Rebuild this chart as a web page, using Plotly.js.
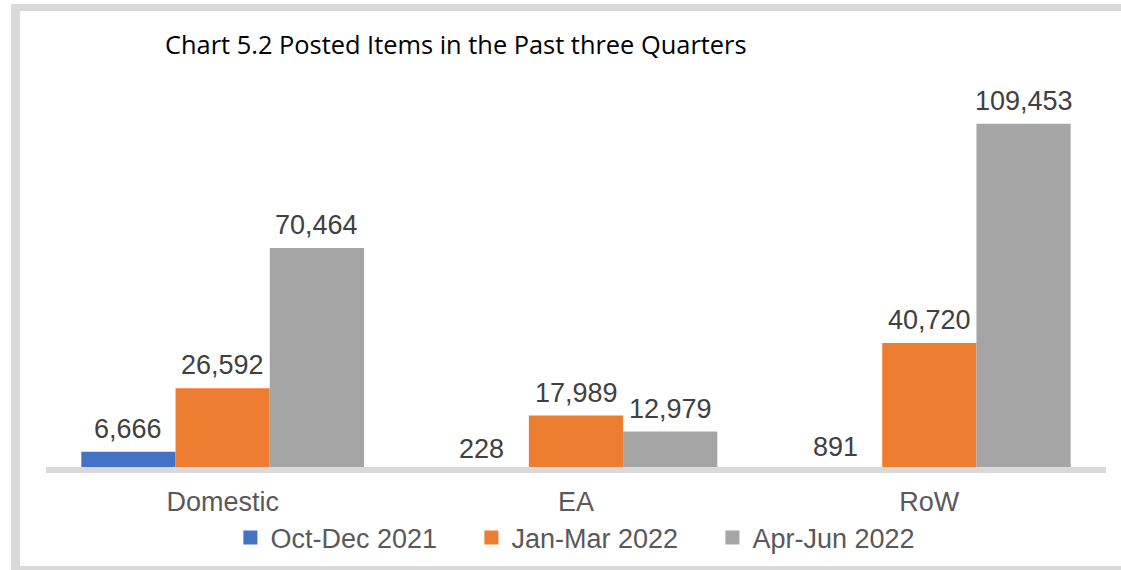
<!DOCTYPE html>
<html>
<head>
<meta charset="utf-8">
<script src="https://cdn.plot.ly/plotly-3.0.1.min.js"></script>
<style>
  html, body { margin: 0; padding: 0; background: #ffffff; }
  #frame { position: absolute; left: 11px; top: 4px; width: 1120px; height: 555px;
           border-left: 9px solid #d9d9d9; border-top: 7px solid #d9d9d9; border-bottom: 8px solid #d9d9d9; }
  #chart { position: absolute; left: 0; top: 0; width: 1121px; height: 570px; }
</style>
</head>
<body>
<div id="frame"></div>
<div id="chart"></div>
<script>
const categories = ["Domestic", "EA", "RoW"];
const seriesNames = ["Oct-Dec 2021", "Jan-Mar 2022", "Apr-Jun 2022"];
const octDec2021 = [6666, 228, 891];
const janMar2022 = [26592, 17989, 40720];
const aprJun2022 = [70464, 12979, 109453];
const seriesColors = ["#4472C4", "#ED7D31", "#A5A5A5"];
const chartTitle = "Chart 5.2 Posted Items in the Past three Quarters";

const arialFamily = "Liberation Sans, Arial, sans-serif";
const labelFont = { family: arialFamily, size: 27, color: "#404040" };
const fmt = v => v.toLocaleString("en-US");
const bargap = 0.2;

const allSeries = [octDec2021, janMar2022, aprJun2022];
const nSeries = allSeries.length;

// bars
const barTraces = allSeries.map((vals, i) => ({
  type: "bar",
  name: seriesNames[i],
  x: categories,
  y: vals,
  marker: { color: seriesColors[i], line: { width: 0 } },
  showlegend: false,
  hoverinfo: "skip"
}));

// legend entries (square swatches)
const legendTraces = seriesNames.map((name, i) => ({
  type: "scatter",
  mode: "markers",
  name: name,
  x: [null],
  y: [null],
  marker: { symbol: "square", size: 14, color: seriesColors[i] },
  showlegend: true,
  hoverinfo: "skip"
}));

// value labels placed on each bar through the category/value axes
const slot = (1 - bargap) / nSeries;
const annotations = [];
allSeries.forEach((vals, si) => {
  vals.forEach((v, ci) => {
    annotations.push({
      xref: "x", yref: "y",
      x: ci + (si - (nSeries - 1) / 2) * slot,
      y: v,
      text: fmt(v),
      showarrow: false,
      xanchor: "center",
      yanchor: "bottom",
      yshift: 6,
      font: labelFont
    });
  });
});

const layout = {
  width: 1121,
  height: 570,
  margin: { l: 46, r: 15, t: 90, b: 97, autoexpand: false },
  paper_bgcolor: "rgba(0,0,0,0)",
  plot_bgcolor: "rgba(0,0,0,0)",
  barmode: "group",
  bargap: bargap,
  bargroupgap: 0,
  title: {
    text: chartTitle,
    x: 165 / 1121,
    xanchor: "left",
    y: 1 - 45 / 570,
    yanchor: "middle",
    font: { family: "Open Sans, sans-serif", size: 25.4, color: "#000000" }
  },
  xaxis: {
    type: "category",
    showline: false,
    ticks: "",
    showgrid: false,
    zeroline: false,
    automargin: false,
    ticklabelstandoff: 10,
    tickfont: { family: arialFamily, size: 27, color: "#595959" }
  },
  yaxis: {
    range: [0, 120000],
    visible: false,
    showgrid: false,
    zeroline: false,
    automargin: false
  },
  shapes: [{
    type: "line", xref: "paper", yref: "y",
    x0: 0, x1: 1, y0: 0, y1: 0,
    line: { color: "#d9d9d9", width: 12 },
    layer: "above"
  }],
  annotations: annotations,
  showlegend: true,
  legend: {
    orientation: "h",
    x: 0.515,
    xanchor: "center",
    y: -(538 - 473) / 383,
    yanchor: "middle",
    entrywidth: 196,
    entrywidthmode: "pixels",
    font: { family: arialFamily, size: 27, color: "#595959" },
    bgcolor: "rgba(0,0,0,0)"
  }
};

Plotly.newPlot("chart", barTraces.concat(legendTraces), layout, { displayModeBar: false, staticPlot: true });
</script>
</body>
</html>
